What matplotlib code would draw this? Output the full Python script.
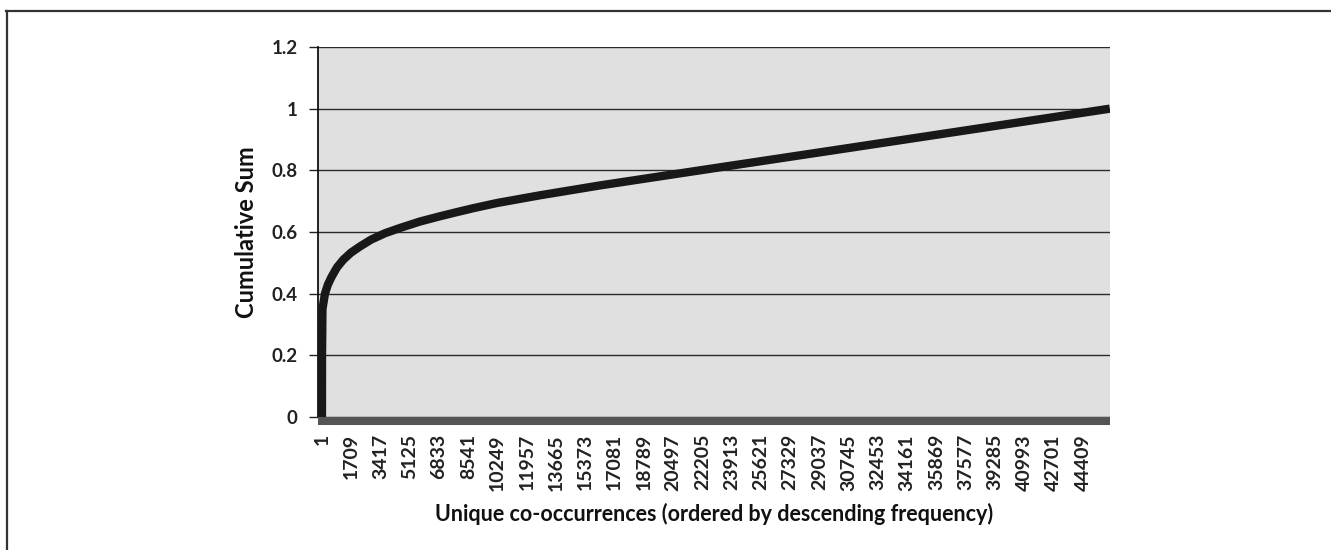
import matplotlib
matplotlib.use("Agg")
import matplotlib.pyplot as plt
from matplotlib.lines import Line2D

# ---- data ----
rank = [1, 5, 30, 176, 351, 567, 876, 1244, 1693, 2218, 2860, 3677, 4552,
        5720, 6886, 7762, 8812, 10212, 12720, 16220, 22057, 30810, 45980]
cum_sum = [0.0, 0.20, 0.35, 0.40, 0.43, 0.455, 0.485, 0.51, 0.533, 0.553,
           0.575, 0.596, 0.613, 0.634, 0.651, 0.663, 0.677, 0.694, 0.719,
           0.751, 0.80, 0.873, 1.0]
x_tick_values = [1, 1709, 3417, 5125, 6833, 8541, 10249, 11957, 13665, 15373,
                 17081, 18789, 20497, 22205, 23913, 25621, 27329, 29037,
                 30745, 32453, 34161, 35869, 37577, 39285, 40993, 42701, 44409]
y_tick_values = [0, 0.2, 0.4, 0.6, 0.8, 1, 1.2]
y_tick_labels = ["0", "0.2", "0.4", "0.6", "0.8", "1", "1.2"]
x_label = "Unique co-occurrences (ordered by descending frequency)"
y_label = "Cumulative Sum"

FONT = ["Lato", "DejaVu Sans"]
plt.rcParams["font.family"] = FONT

W, H = 1331, 550
fig = plt.figure(figsize=(W / 100, H / 100), dpi=100)
fig.patch.set_facecolor("white")

L, R, T, B = 318, 1110, 47, 417
ax = fig.add_axes([L / W, 1 - B / H, (R - L) / W, (B - T) / H])
ax.set_facecolor("#e0e0e0")

# spines first (set_position resets tick properties)
for s in ["top", "right"]:
    ax.spines[s].set_visible(False)
ax.spines["bottom"].set_position(("outward", 2.9))
ax.spines["left"].set_color("#111111")
ax.spines["left"].set_linewidth(1.3)
ax.spines["bottom"].set_color("#555555")
ax.spines["bottom"].set_linewidth(5.8)
ax.spines["bottom"].set_capstyle("butt")

ax.plot(rank, cum_sum, color="#181818", lw=6.0, solid_capstyle="butt",
        solid_joinstyle="round", zorder=3)

ax.set_xlim(-230, 45990)
ax.set_ylim(0, 1.2)

ax.set_yticks(y_tick_values)
ax.set_yticklabels(y_tick_labels, fontsize=13.5, fontweight="bold", color="#222222")
ax.set_xticks(x_tick_values)
ax.set_xticklabels([str(v) for v in x_tick_values], rotation=90,
                   fontsize=14, color="#222222", fontweight="bold")

ax.yaxis.grid(True, color="#2a2a2a", lw=1.0)
ax.set_axisbelow(True)

ax.tick_params(axis="y", length=6.5, width=1.0, color="#222222", pad=8)
ax.tick_params(axis="x", length=0, pad=9.4)

ax.set_xlabel(x_label, fontsize=15.5, fontweight="bold", color="#111111", labelpad=9)
ax.set_ylabel(y_label, fontsize=17, fontweight="bold", color="#111111", labelpad=10)

# outer frame (top and left edges visible in reference)
fig.add_artist(Line2D([6 / W, 1], [1 - 10.5 / H, 1 - 10.5 / H],
                      transform=fig.transFigure, color="#333333", lw=1.6))
fig.add_artist(Line2D([6.5 / W, 6.5 / W], [0, 1 - 10.5 / H],
                      transform=fig.transFigure, color="#333333", lw=1.6))

fig.savefig("out.png", dpi=100, facecolor="white")
